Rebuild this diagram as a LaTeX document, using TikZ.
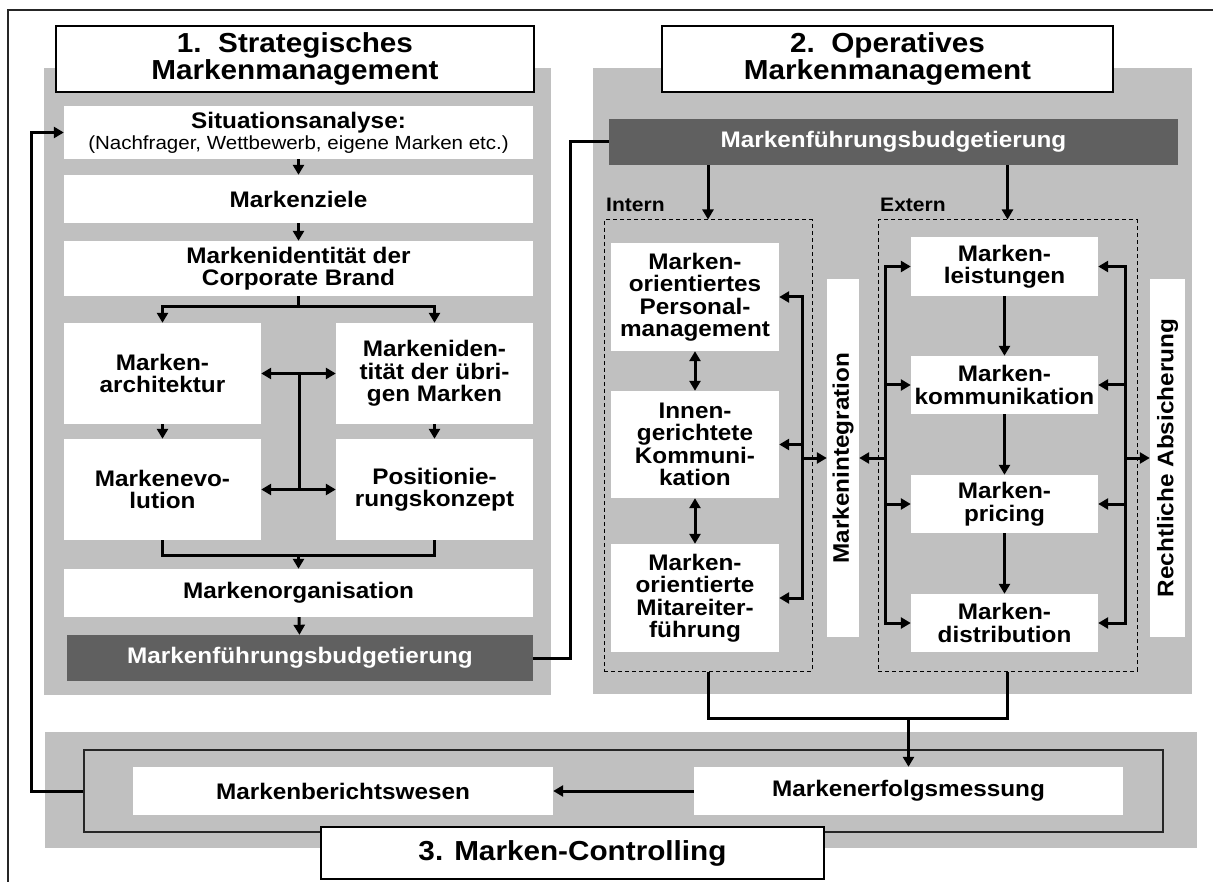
\documentclass[tikz,border=0pt]{standalone}
\usepackage{fontspec}
\setmainfont{Liberation Sans}[FakeStretch=1.08]
\usetikzlibrary{arrows.meta,fit}
\definecolor{panel}{HTML}{C0C0C0}
\definecolor{darkbox}{HTML}{606060}
\newcommand\bodyf{\fontsize{22.5}{22.5}\selectfont\bfseries}
\newcommand\titlef{\fontsize{27.5}{27.5}\selectfont\bfseries}
\newcommand\labf{\fontsize{19.5}{19.5}\selectfont\bfseries}
\newcommand\ml[1]{\vbox{\def\\{\cr}\halign{\hfil##\hfil\cr#1\crcr}}}
\begin{document}
\begin{tikzpicture}[x=1pt,y=-1pt,
 panelbox/.style={fill=panel, inner sep=0pt},
 wbox/.style={fill=white, inner sep=0pt},
 dbox/.style={fill=darkbox, inner sep=0pt},
 tbox/.style={fill=white, draw=black, line width=1.5pt, inner sep=0pt},
 txt/.style={inner sep=0pt, font=\bodyf},
 wtxt/.style={inner sep=0pt, font=\bodyf, text=white},
 ttxt/.style={inner sep=0pt, font=\titlef},
 dashbox/.style={draw=black, line width=1pt, dash pattern=on 4pt off 3pt, inner sep=0pt},
 framebox/.style={draw=black!85, line width=1.5pt, inner sep=0pt},
 conn/.style={line width=3pt},
 arr/.style={conn, -{Triangle[length=10pt,width=11pt]}},
 darr/.style={conn, {Triangle[length=10pt,width=11pt]}-{Triangle[length=10pt,width=11pt]}},
]
\useasboundingbox (0,0) rectangle (1213,882);
% outer frame (cropped)
\draw[line width=1.3pt, black!85] (8,882) -- (8,10) -- (1213,10);

% ---------- panels ----------
\node[panelbox, fit={(44,68)(551,695)}] (p1) {};
\node[panelbox, fit={(593,68)(1192,694)}] (p2) {};
\node[panelbox, fit={(45,732)(1197,848)}] (p3) {};

% ---------- 1. strategic ----------
\node[tbox, fit={(56,26)(534,92)}] (t1) {};
\node[ttxt] (t1T) at (t1.center) {\ml{1.\ \ Strategisches\\Markenmanagement}};
\node[wbox, fit={(64,106)(533,159)}] (sit) {};
\node[txt, font=\fontsize{22.5}{21}\selectfont\bfseries] (sitT) at (sit.center) {\ml{Situationsanalyse:\\\mdseries\fontsize{19}{21}\selectfont (Nachfrager, Wettbewerb, eigene Marken etc.)}};
\node[wbox, fit={(64,175)(533,223)}] (ziele) {};
\node[txt] (zieleT) at (ziele.center) {Markenziele};
\node[wbox, fit={(64,241)(533,296)}] (cb) {};
\node[txt] (cbT) at (cb.center) {\ml{Markenidentität der\\Corporate Brand}};
\node[wbox, fit={(64,323)(261,424)}] (arch) {};
\node[txt] (archT) at (arch.center) {\ml{Marken-\\architektur}};
\node[wbox, fit={(336,323)(533,424)}] (uebr) {};
\node[txt] (uebrT) at (uebr.center) {\ml{Markeniden-\\tität der übri-\\gen Marken}};
\node[wbox, fit={(64,439)(261,540)}] (evol) {};
\node[txt] (evolT) at (evol.center) {\ml{Markenevo-\\lution}};
\node[wbox, fit={(336,439)(533,540)}] (pos) {};
\node[txt] (posT) at (pos.center) {\ml{Positionie-\\rungskonzept}};
\node[wbox, fit={(64,569)(533,617)}] (org) {};
\node[txt] (orgT) at (org.center) {Markenorganisation};
\node[dbox, fit={(67,635)(533,681)}] (bud1) {};
\node[wtxt] (bud1T) at (bud1.center) {Markenführungsbudgetierung};

\draw[arr] (sit) -- (ziele);
\draw[arr] (ziele) -- (cb);
\coordinate (brY) at (0,307);
\draw[conn] (cb.south) -- (cb.south |- brY);
\draw[arr] (cb.south |- brY) -| (arch.north);
\draw[arr] (cb.south |- brY) -| (uebr.north);
\draw[arr] (arch) -- (evol);
\draw[arr] (uebr) -- (pos);
\draw[darr] (arch.east) -- (uebr.west);
\draw[darr] (evol.east) -- (pos.west);
\coordinate (vm) at (299,0);
\draw[conn] (vm |- arch.east) -- (vm |- evol.east);
\coordinate (mgY) at (0,555);
\draw[conn] (evol.south) -- (evol.south |- mgY) -- (pos.south |- mgY) -- (pos.south);
\draw[arr] (org.north |- mgY) -- (org.north);
\draw[arr] (org) -- (bud1);

% ---------- 2. operative ----------
\node[tbox, fit={(662,26)(1113,92)}] (t2) {};
\node[ttxt] (t2T) at (t2.center) {\ml{2.\ \ Operatives\\Markenmanagement}};
\node[dbox, fit={(609,119)(1178,165)}] (bud2) {};
\node[wtxt] (bud2T) at (bud2.center) {Markenführungsbudgetierung};
\coordinate (rx) at (570,0);
\draw[conn] (bud1.east) -- (rx |- bud1.east) -- (rx |- bud2.west) -- (bud2.west);

\node[dashbox, fit={(604,220)(812,671)}] (dI) {};
\node[dashbox, fit={(878,220)(1137,671)}] (dE) {};
\node[anchor=base west, inner sep=0pt, font=\labf] (lI) at (606,212) {Intern};
\node[anchor=base west, inner sep=0pt, font=\labf] (lE) at (880,212) {Extern};
\draw[arr] (bud2.south -| dI.north) -- (dI.north);
\draw[arr] (bud2.south -| dE.north) -- (dE.north);

\node[wbox, fit={(611,243)(779,351)}] (pers) {};
\node[txt] (persT) at (pers.center) {\ml{Marken-\\orientiertes\\Personal-\\management}};
\node[wbox, fit={(611,391)(779,498)}] (innen) {};
\node[txt] (innenT) at (innen.center) {\ml{Innen-\\gerichtete\\Kommuni-\\kation}};
\node[wbox, fit={(611,544)(779,652)}] (mita) {};
\node[txt] (mitaT) at (mita.center) {\ml{Marken-\\orientierte\\Mitareiter-\\führung}};
\draw[darr] (pers) -- (innen);
\draw[darr] (innen) -- (mita);

\node[wbox, fit={(827,279)(859,637)}] (integ) {};
\node[txt, rotate=90] (integT) at (integ.center) {Markenintegration};
\node[wbox, fit={(1150,279)(1185,637)}] (recht) {};
\node[txt, rotate=90] (rechtT) at (recht.center) {Rechtliche Absicherung};

\node[wbox, fit={(911,237)(1098,296)}] (leist) {};
\node[txt] (leistT) at (leist.center) {\ml{Marken-\\leistungen}};
\node[wbox, fit={(911,356)(1098,414)}] (komm) {};
\node[txt] (kommT) at (komm.center) {\ml{Marken-\\kommunikation}};
\node[wbox, fit={(911,475)(1098,533)}] (pric) {};
\node[txt] (pricT) at (pric.center) {\ml{Marken-\\pricing}};
\node[wbox, fit={(911,594)(1098,652)}] (dist) {};
\node[txt] (distT) at (dist.center) {\ml{Marken-\\distribution}};
\draw[arr] (leist) -- (komm);
\draw[arr] (komm) -- (pric);
\draw[arr] (pric) -- (dist);

% intern bus
\coordinate (ib) at (802,0);
\draw[arr] (ib |- innen.east) -- (ib |- pers.east) -- (pers.east);
\draw[arr] (ib |- innen.east) -- (ib |- mita.east) -- (mita.east);
\draw[arr] (ib |- innen.east) -- (innen.east);
\draw[arr] (ib |- integ.west) -- (integ.west);
% extern left bus
\coordinate (bl) at (885,0);
\draw[arr] (bl |- pric.west) -- (bl |- leist.west) -- (leist.west);
\draw[arr] (bl |- komm.west) -- (bl |- dist.west) -- (dist.west);
\draw[arr] (bl |- komm.west) -- (komm.west);
\draw[arr] (bl |- pric.west) -- (pric.west);
\draw[arr] (bl |- integ.east) -- (integ.east);
% extern right bus
\coordinate (bq) at (1125,0);
\draw[arr] (bq |- pric.east) -- (bq |- leist.east) -- (leist.east);
\draw[arr] (bq |- komm.east) -- (bq |- dist.east) -- (dist.east);
\draw[arr] (bq |- komm.east) -- (komm.east);
\draw[arr] (bq |- pric.east) -- (pric.east);
\draw[arr] (bq |- recht.west) -- (recht.west);

% ---------- 3. controlling ----------
\node[framebox, fit={(84,750)(1163,832)}] (ctrl) {};
\node[wbox, fit={(133,767)(553,815)}] (ber) {};
\node[txt] (berT) at (ber.center) {Markenberichtswesen};
\node[wbox, fit={(694,767)(1123,815)}] (erf) {};
\node[txt] (erfT) at (erf.center) {Markenerfolgsmessung};
\node[tbox, fit={(321,827)(824,879)}] (t3) {};
\node[ttxt] (t3T) at (t3.center) {3. Marken-Controlling};
\draw[arr] (erf) -- (ber);

\coordinate (jnY) at (0,718);
\draw[conn] (dI.south) -- (dI.south |- jnY) -- (dE.south |- jnY) -- (dE.south);
\draw[arr] (erf.north |- jnY) -- (erf.north);

\coordinate (fb) at (31,0);
\draw[arr] (ctrl.west) -- (fb |- ctrl.west) -- (fb |- sit.west) -- (sit.west);
\end{tikzpicture}
\end{document}
